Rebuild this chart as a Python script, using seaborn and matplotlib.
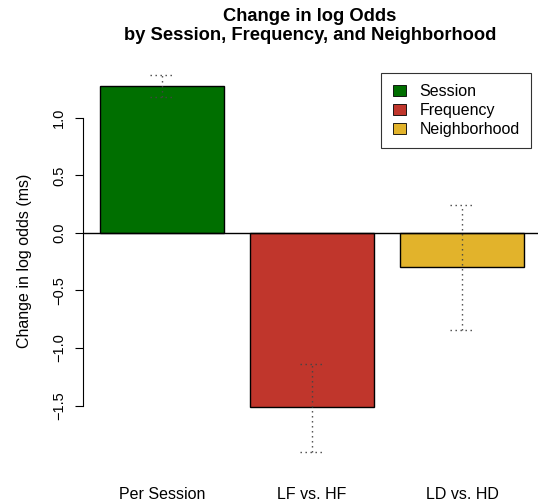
import pandas as pd
import matplotlib
matplotlib.use('Agg')
import matplotlib.pyplot as plt
from matplotlib.patches import Patch
import seaborn as sns

# values
comparisons = ['Per Session', 'LF vs. HF', 'LD vs. HD']
groups = ['Session', 'Frequency', 'Neighborhood']
change = [1.28, -1.51, -0.30]
ci_low = [1.18, -1.90, -0.84]
ci_high = [1.37, -1.14, 0.24]
colors = ['#006f00', '#c0362c', '#e2b32b']

sns.set_style('white')
plt.rcParams['font.family'] = ['Liberation Sans', 'DejaVu Sans']
for key in ['text.color', 'axes.labelcolor', 'xtick.color', 'ytick.color']:
    plt.rcParams[key] = 'black'

df = pd.DataFrame({'comparison': comparisons, 'group': groups, 'change': change})

fig = plt.figure(figsize=(5.38, 5.04), dpi=100)
ax = fig.add_axes([83 / 538, 1 - 470 / 504, 455 / 538, 397 / 504])

sns.barplot(data=df, x='comparison', y='change', hue='group', palette=colors,
            saturation=1, dodge=False, width=0.833, errorbar=None, edgecolor='black',
            linewidth=1, legend=False, ax=ax)

# dotted error bars with dotted caps (R lty=3 look)
pos = range(len(comparisons))
half = 0.08
dots = (0, (1, 2.6))
ax.vlines(pos, ci_low, ci_high, colors='#444444', linestyles=[dots], linewidth=1, zorder=5)
ax.hlines(ci_low, [p - half for p in pos], [p + half for p in pos], colors='#444444',
          linestyles=[dots], linewidth=1, zorder=5)
ax.hlines(ci_high, [p - half for p in pos], [p + half for p in pos], colors='#444444',
          linestyles=[dots], linewidth=1, zorder=5)

ax.axhline(0, color='black', linewidth=1, zorder=6)

ax.set_xlim(-0.527, 2.507)
ax.set_ylim(-2.06, 1.39)

for side in ['top', 'right', 'bottom']:
    ax.spines[side].set_visible(False)
ax.spines['left'].set_bounds(-1.5, 1.0)
ax.spines['left'].set_color('black')
ax.spines['left'].set_linewidth(0.8)

ax.set_yticks([-1.5, -1.0, -0.5, 0.0, 0.5, 1.0])
ax.set_yticklabels(['\u22121.5', '\u22121.0', '\u22120.5', '0.0', '0.5', '1.0'],
                   rotation=90, va='center', fontsize=10.5)
ax.tick_params(axis='y', left=True, length=6, width=0.8, color='black', pad=6)
ax.tick_params(axis='x', bottom=False, labelsize=11.5, pad=9)
ax.set_xlabel('')
ax.set_ylabel('Change in log odds (ms)', fontsize=11.5)
ax.yaxis.set_label_coords(-0.112, 0.526)

fig.text(310 / 538, 1 - 26 / 504, 'Change in log Odds\nby Session, Frequency, and Neighborhood',
         ha='center', va='center', fontsize=13.2, fontweight='bold', linespacing=1.15)

handles = [Patch(facecolor=c, edgecolor='black', linewidth=0.6) for c in colors]
leg = ax.legend(handles, groups, loc='upper right', bbox_to_anchor=(0.985, 1.0),
                borderaxespad=0, fancybox=False, fontsize=11.5, handlelength=0.85,
                handleheight=0.7, handletextpad=0.85, borderpad=0.7, labelspacing=0.24)
leg.get_frame().set_edgecolor('black')
leg.get_frame().set_linewidth(0.8)

fig.savefig('out.png', dpi=100)
